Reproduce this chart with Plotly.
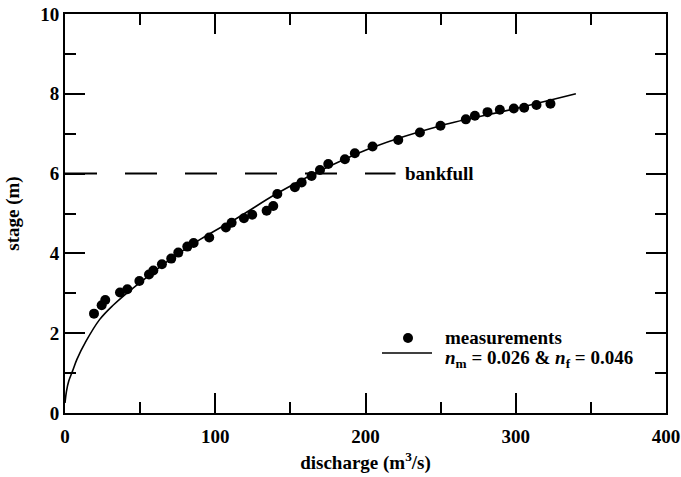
import plotly.graph_objects as go

# measured discharge (m3/s) and stage (m)
q_meas = [19.3, 24.4, 26.8, 36.6, 41.5, 49.5, 55.9, 58.8, 64.5, 70.7, 75.4, 81.4, 85.6,
          96.0, 107.1, 110.9, 119.1, 124.6, 134.2, 138.6, 141.3, 153.0, 157.5, 164.1,
          169.7, 175.2, 186.3, 192.9, 204.7, 221.8, 236.2, 249.9, 266.8, 272.8, 281.2,
          289.4, 298.7, 305.6, 313.8, 323.1]
h_meas = [2.49, 2.70, 2.83, 3.02, 3.10, 3.31, 3.47, 3.57, 3.73, 3.87, 4.02, 4.17, 4.26,
          4.40, 4.65, 4.77, 4.88, 4.97, 5.07, 5.19, 5.49, 5.66, 5.78, 5.94,
          6.09, 6.24, 6.36, 6.51, 6.68, 6.84, 7.03, 7.20, 7.36, 7.45, 7.54,
          7.60, 7.63, 7.65, 7.72, 7.75]

# rating curve n_m = 0.026 & n_f = 0.046
q_fit = [0, 1, 2.5, 5, 8, 14, 23, 32, 41, 55, 70, 90, 116, 141, 167, 205, 250, 300, 340]
h_fit = [0.25, 0.55, 0.8, 1.05, 1.35, 1.8, 2.34, 2.7, 3.0, 3.42, 3.85, 4.35, 4.92, 5.5,
         6.02, 6.66, 7.2, 7.63, 8.0]

# bankfull level
bank_q = [0, 220]
bank_h = [6, 6]

x_ticks = [0, 100, 200, 300, 400]
y_ticks = [0, 2, 4, 6, 8, 10]

FONT = "Liberation Serif"

fig = go.Figure()
fig.add_trace(go.Scatter(x=bank_q, y=bank_h, mode="lines",
                         line=dict(color="black", width=2, dash="32px,28px"),
                         showlegend=False, hoverinfo="skip"))
fig.add_trace(go.Scatter(x=q_fit, y=h_fit, mode="lines",
                         line=dict(color="black", width=1.6, shape="spline"),
                         showlegend=False))
fig.add_trace(go.Scatter(x=q_meas, y=h_meas, mode="markers",
                         marker=dict(color="black", size=10),
                         showlegend=False))

fig.add_annotation(x=225, y=6, xref="x", yref="y", text="bankfull", showarrow=False,
                   xanchor="left", yanchor="middle",
                   font=dict(family=FONT, size=19, color="black", weight="bold"))

# manual legend (positions given in pixels of the plot area frame)
W, H, L, T = 601.0, 399.0, 65.0, 14.0
def px(xp):
    return (xp - L) / W
def py(yp):
    return (T + H - yp) / H

fig.add_shape(type="circle", xref="paper", yref="paper",
              x0=px(403), x1=px(413), y0=py(343), y1=py(333),
              fillcolor="black", line=dict(color="black", width=0))
fig.add_shape(type="line", xref="paper", yref="paper",
              x0=px(382), x1=px(432), y0=py(353), y1=py(353),
              line=dict(color="black", width=1.6))
fig.add_annotation(x=px(443), y=py(337), xref="paper", yref="paper",
                   text="measurements", showarrow=False, xanchor="left", yanchor="middle",
                   font=dict(family=FONT, size=19, color="black", weight="bold"))
fig.add_annotation(x=px(443), y=py(359), xref="paper", yref="paper",
                   text="<i>n</i><sub>m</sub> = 0.026 & <i>n</i><sub>f</sub> = 0.046",
                   showarrow=False, xanchor="left", yanchor="middle",
                   font=dict(family=FONT, size=19, color="black", weight="bold"))

axis_common = dict(showline=True, linewidth=2, linecolor="black", mirror="ticks",
                   ticks="inside", ticklen=20, tickwidth=2, tickcolor="black",
                   showgrid=False, zeroline=False,
                   tickfont=dict(family=FONT, size=19, color="black", weight="bold"))

fig.update_xaxes(range=[0, 400], tickvals=x_ticks, **axis_common, ticklabelstandoff=5,
                 minor=dict(ticks="inside", ticklen=11, tickwidth=2, tickcolor="black", dtick=50, tick0=0),
                 title=dict(text="discharge (m<sup>3</sup>/s)", standoff=10,
                            font=dict(family=FONT, size=19, color="black", weight="bold")))
fig.update_yaxes(range=[0, 10], tickvals=y_ticks, **axis_common,
                 minor=dict(ticks="inside", ticklen=11, tickwidth=2, tickcolor="black", dtick=1, tick0=0),
                 title=dict(text="stage (m)", standoff=16,
                            font=dict(family=FONT, size=19, color="black", weight="bold")))

fig.update_layout(width=681, height=477, margin=dict(l=65, r=15, t=14, b=64, autoexpand=False),
                  plot_bgcolor="white", paper_bgcolor="white", showlegend=False)

# remove the default page margin so the figure fills the window exactly
fig.write_html("out.html", config={"displayModeBar": False},
               post_script="document.body.style.margin='0';")
